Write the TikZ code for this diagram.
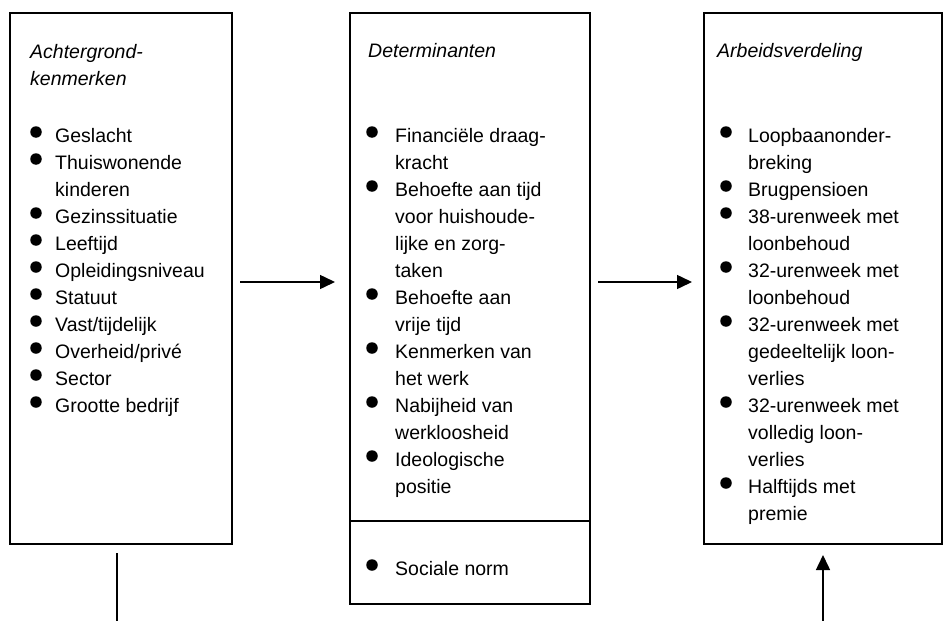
\documentclass[tikz,border=0pt]{standalone}
\usepackage{fontspec}
\setmainfont{Liberation Sans}
\usetikzlibrary{arrows.meta}
\begin{document}
\begin{tikzpicture}[x=1pt,y=-1pt,
  box/.style={draw,line width=1.6pt,anchor=north west,inner sep=0pt},
  txt/.style={anchor=base west,inner sep=0pt,font=\fontsize{19.5}{27}\selectfont},
  ttl/.style={txt,font=\fontsize{19.5}{27}\selectfont\itshape},
  bul/.style={circle,fill=black,inner sep=0pt,minimum size=11.5pt},
  conn/.style={line width=1.5pt},
  arr/.style={conn,-{Triangle[length=15pt,width=14pt]}}
]
\useasboundingbox (0,0) rectangle (943,621);

% boxes
\node[box,minimum width=222pt,minimum height=531pt] (bA) at (9,12) {};
\node[box,minimum width=240pt,minimum height=591pt] (bB) at (349,12) {};
\node[box,minimum width=238pt,minimum height=531pt] (bC) at (703,12) {};
\coordinate (sepL) at (349,521);
\coordinate (sepR) at (589,521);
\draw[line width=1.6pt] (sepL) -- (sepR);

% titles
\node[ttl] (tA1) at (30,58) {Achtergrond-};
\node[ttl] (tA2) at (30,85) {kenmerken};
\node[ttl] (tB) at (368,57) {Determinanten};
\node[ttl] (tC) at (717,57) {Arbeidsverdeling};

% left list
\foreach \y/\b/\t [count=\i] in {142/1/Geslacht,169/1/Thuiswonende,196/0/kinderen,
  223/1/Gezinssituatie,250/1/Leeftijd,277/1/Opleidingsniveau,304/1/Statuut,
  331/1/{Vast/tijdelijk},358/1/{Overheid/privé},385/1/Sector,412/1/Grootte bedrijf}{
  \node[txt] (A\i) at (55,\y) {\t};
  \ifnum\b=1 \node[bul] (Ab\i) at (36,\y-10) {};\fi
}

% middle list
\foreach \y/\b/\t [count=\i] in {142/1/Financiële draag-,169/0/kracht,
  196/1/Behoefte aan tijd,223/0/voor huishoude-,250/0/lijke en zorg-,277/0/taken,
  304/1/Behoefte aan,331/0/vrije tijd,358/1/Kenmerken van,385/0/het werk,
  412/1/Nabijheid van,439/0/werkloosheid,466/1/Ideologische,493/0/positie,
  575/1/Sociale norm}{
  \node[txt] (B\i) at (395,\y) {\t};
  \ifnum\b=1 \node[bul] (Bb\i) at (372,\y-10) {};\fi
}

% right list
\foreach \y/\b/\t [count=\i] in {142/1/Loopbaanonder-,169/0/breking,
  196/1/Brugpensioen,223/1/38-urenweek met,250/0/loonbehoud,
  277/1/32-urenweek met,304/0/loonbehoud,331/1/32-urenweek met,
  358/0/gedeeltelijk loon-,385/0/verlies,412/1/32-urenweek met,
  439/0/volledig loon-,466/0/verlies,493/1/Halftijds met,520/0/premie}{
  \node[txt] (C\i) at (748,\y) {\t};
  \ifnum\b=1 \node[bul] (Cb\i) at (726,\y-10) {};\fi
}

% connectors
\coordinate (a1s) at (240,282);
\coordinate (a1e) at (335,282);
\coordinate (a2s) at (598,282);
\coordinate (a2e) at (692,282);
\coordinate (l1s) at (117,553);
\coordinate (l1e) at (117,621);
\coordinate (l2s) at (823,621);
\coordinate (l2e) at (823,555);
\draw[arr] (a1s) -- (a1e);
\draw[arr] (a2s) -- (a2e);
\draw[conn] (l1s) -- (l1e);
\draw[arr] (l2s) -- (l2e);
\end{tikzpicture}
\end{document}
